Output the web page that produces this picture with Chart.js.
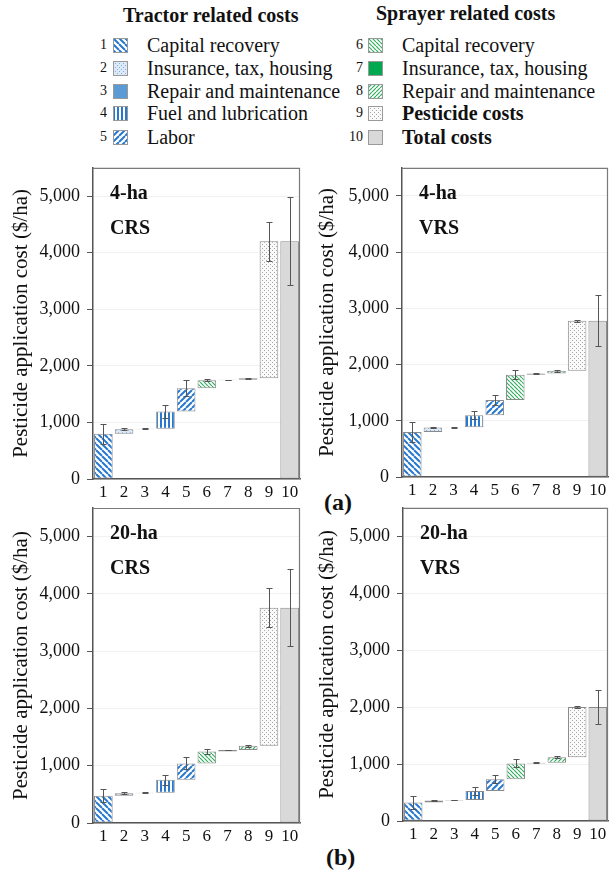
<!DOCTYPE html>
<html>
<head>
<meta charset="utf-8">
<script src="https://cdn.jsdelivr.net/npm/chart.js@4.4.1/dist/chart.umd.min.js"></script>
<style>
  html, body { margin: 0; padding: 0; background: #fff; }
  body { width: 612px; height: 870px; position: relative; overflow: hidden;
         font-family: 'Liberation Serif', 'Times New Roman', serif; color: #111; }
  .abs { position: absolute; white-space: nowrap; }
  .hdr { font-weight: bold; font-size: 20px; line-height: 22px; }
  .num { font-size: 14px; line-height: 16px; text-align: right; width: 24px; }
  .lbl { font-size: 20px; line-height: 22px; }
  .tag { font-weight: bold; font-size: 24px; line-height: 26px; }
  canvas { position: absolute; }
</style>
</head>
<body>
<div class="abs hdr" style="left:123px;top:4px">Tractor related costs</div>
<div class="abs hdr" style="left:376px;top:2px">Sprayer related costs</div>
<div id="legend"></div>
<div class="abs tag" style="left:324px;top:489px">(a)</div>
<div class="abs tag" style="left:326px;top:844px">(b)</div>

<canvas id="c1" width="306" height="350" style="left:0;top:150px"></canvas>
<canvas id="c2" width="306" height="350" style="left:306px;top:150px"></canvas>
<canvas id="c3" width="306" height="370" style="left:0;top:490px"></canvas>
<canvas id="c4" width="306" height="370" style="left:306px;top:490px"></canvas>

<script>
const categories = ['1', '2', '3', '4', '5', '6', '7', '8', '9', '10'];
const costNames = ['Capital recovery', 'Insurance, tax, housing', 'Repair and maintenance',
  'Fuel and lubrication', 'Labor', 'Capital recovery', 'Insurance, tax, housing',
  'Repair and maintenance', 'Pesticide costs', 'Total costs'];

// running total at the top of each bar ($/ha), bar 10 = total
const tops4CRS = [800, 880, 890, 1195, 1605, 1745, 1753, 1780, 4200, 4200];
const tops4VRS = [800, 880, 885, 1100, 1370, 1820, 1840, 1890, 2780, 2780];
const tops20CRS = [475, 520, 530, 755, 1040, 1250, 1275, 1350, 3760, 3760];
const tops20VRS = [325, 360, 368, 525, 735, 1010, 1025, 1120, 2000, 2000];

// error bars (+/- $/ha)
const err4CRS = [180, 20, 5, 115, 140, 20, 5, 10, 340, 780];
const err4VRS = [180, 15, 5, 75, 90, 80, 5, 15, 15, 450];
const err20CRS = [115, 15, 5, 90, 105, 40, 5, 20, 335, 670];
const err20VRS = [110, 15, 5, 75, 70, 70, 5, 15, 15, 300];

const yTicks = [0, 1000, 2000, 3000, 4000, 5000];

const FONT = "'Liberation Serif', 'Times New Roman', serif";
const BLUE = '#2878d0';
const GREEN = '#32ad5f';

// --- fill patterns ---
function tile(size, bg, draw) {
  const c = document.createElement('canvas');
  c.width = size; c.height = size;
  const g = c.getContext('2d');
  g.fillStyle = bg;
  g.fillRect(0, 0, size, size);
  draw(g, size);
  return g.createPattern(c, 'repeat');
}
function diag(color, size, lw, forward) {
  return tile(size, '#fff', (g, s) => {
    g.strokeStyle = color;
    g.lineWidth = lw;
    g.beginPath();
    for (let o = -s; o <= s; o += s) {
      if (forward) { g.moveTo(o, s); g.lineTo(o + s, 0); }
      else { g.moveTo(o, 0); g.lineTo(o + s, s); }
    }
    g.stroke();
  });
}
function vert(color, size, lw) {
  return tile(size, '#fff', (g, s) => { g.fillStyle = color; g.fillRect(0, 0, lw, s); });
}
function dots(bg, color, size) {
  return tile(size, bg, (g) => {
    g.fillStyle = color;
    g.fillRect(0, 0, 1, 1);
    g.fillRect(2, 2, 1, 1);
  });
}

const fills = [
  diag(BLUE, 6, 2, false),
  dots('#dde9f6', '#7fb0e0', 4),
  '#5b9bd5',
  vert(BLUE, 4, 2),
  diag(BLUE, 6, 2, true),
  diag(GREEN, 4, 1.2, false),
  '#00a84f',
  diag(GREEN, 4, 1.2, true),
  dots('#fafafa', '#a6a6a6', 4),
  '#d9d9d9'
];

// --- legend ---
const rowY = [45, 68, 91, 113, 137];
const legend = document.getElementById('legend');
costNames.forEach((name, i) => {
  const col = i < 5 ? 0 : 1;
  const cy = rowY[i % 5];
  const numX = col ? 339 : 83;
  const swX = col ? 368 : 113;
  const txtX = col ? 402 : 147;
  const n = document.createElement('div');
  n.className = 'abs num';
  n.style.left = numX + 'px'; n.style.top = (cy - 8) + 'px';
  n.textContent = categories[i];
  legend.appendChild(n);
  const sw = document.createElement('canvas');
  sw.width = 15; sw.height = 15;
  sw.style.left = swX + 'px'; sw.style.top = (cy - 7) + 'px';
  const g = sw.getContext('2d');
  g.fillStyle = fills[i]; g.fillRect(0, 0, 15, 15);
  g.strokeStyle = '#9a9a9a'; g.lineWidth = 1; g.strokeRect(0.5, 0.5, 14, 14);
  legend.appendChild(sw);
  const t = document.createElement('div');
  t.className = 'abs lbl';
  if (i >= 8) t.style.fontWeight = 'bold';
  t.style.left = txtX + 'px'; t.style.top = (cy - 11) + 'px';
  t.textContent = name;
  legend.appendChild(t);
});

// --- panels ---
function makePanel(id, tops, errs, size, system, area) {
  const canvas = document.getElementById(id);
  const W = canvas.width, H = canvas.height;
  const bars = tops.map((v, i) => [(i === 0 || i === 9) ? 0 : tops[i - 1], v]);

  const decor = {
    id: 'decor',
    afterDatasetsDraw(chart) {
      const {ctx, chartArea: a, scales: {y}} = chart;
      const meta = chart.getDatasetMeta(0);
      ctx.save();
      // top + right frame
      ctx.strokeStyle = '#7a7a7a';
      ctx.lineWidth = 1.2;
      ctx.beginPath();
      ctx.moveTo(a.left, a.top + 0.5);
      ctx.lineTo(a.right - 0.5, a.top + 0.5);
      ctx.lineTo(a.right - 0.5, a.bottom);
      ctx.stroke();
      // error bars
      ctx.strokeStyle = '#555';
      ctx.lineWidth = 1;
      errs.forEach((e, i) => {
        const x = Math.round(meta.data[i].x) + 0.5;
        const hi = Math.round(y.getPixelForValue(tops[i] + e)) + 0.5;
        const lo = Math.round(y.getPixelForValue(tops[i] - e)) + 0.5;
        ctx.beginPath();
        ctx.moveTo(x, hi); ctx.lineTo(x, lo);
        ctx.moveTo(x - 3, hi); ctx.lineTo(x + 3, hi);
        ctx.moveTo(x - 3, lo); ctx.lineTo(x + 3, lo);
        ctx.stroke();
      });
      // panel labels
      ctx.fillStyle = '#111';
      ctx.font = 'bold 20px ' + FONT;
      ctx.textBaseline = 'middle';
      ctx.fillText(size, a.left + 17, a.top + 26);
      ctx.fillText(system, a.left + 17, a.top + 61);
      ctx.restore();
    }
  };

  new Chart(canvas, {
    type: 'bar',
    data: {
      labels: categories,
      datasets: [{
        data: bars,
        backgroundColor: fills,
        borderColor: '#8a8a8a',
        borderWidth: 1,
        borderSkipped: false,
        barPercentage: 0.9,
        categoryPercentage: 1.0
      }]
    },
    options: {
      responsive: false,
      animation: false,
      layout: { padding: { left: 0, top: area.t, right: W - area.r, bottom: 0 } },
      plugins: { legend: { display: false }, tooltip: { enabled: false } },
      scales: {
        x: {
          grid: { display: false, drawTicks: false },
          border: { color: '#555', width: 1.5 },
          ticks: {
            color: '#111', padding: 3, autoSkip: false, maxRotation: 0, minRotation: 0,
            font: { family: FONT, size: 17 }
          },
          afterFit(s) { s.height = H - area.b; }
        },
        y: {
          min: 0,
          max: 5500,
          afterBuildTicks(s) { s.ticks = yTicks.map(v => ({ value: v })); },
          grid: { color: '#f1f1f1', tickColor: '#555', tickLength: 6 },
          border: { color: '#555', width: 1.5 },
          ticks: {
            color: '#111', padding: 7, font: { family: FONT, size: 18 },
            callback: v => v.toLocaleString('en-US')
          },
          title: {
            display: true,
            text: 'Pesticide application cost ($/ha)',
            color: '#111',
            padding: { top: 9, bottom: 0 },
            font: { family: FONT, size: 21 }
          },
          afterFit(s) { s.width = area.l; }
        }
      }
    },
    plugins: [decor]
  });
}

makePanel('c1', tops4CRS, err4CRS, '4-ha', 'CRS', { l: 93, t: 14, r: 300, b: 329 });
makePanel('c2', tops4VRS, err4VRS, '4-ha', 'VRS', { l: 96, t: 13, r: 302, b: 327 });
makePanel('c3', tops20CRS, err20CRS, '20-ha', 'CRS', { l: 93, t: 18, r: 300, b: 333 });
makePanel('c4', tops20VRS, err20VRS, '20-ha', 'VRS', { l: 97, t: 16, r: 302, b: 331 });
</script>
</body>
</html>
